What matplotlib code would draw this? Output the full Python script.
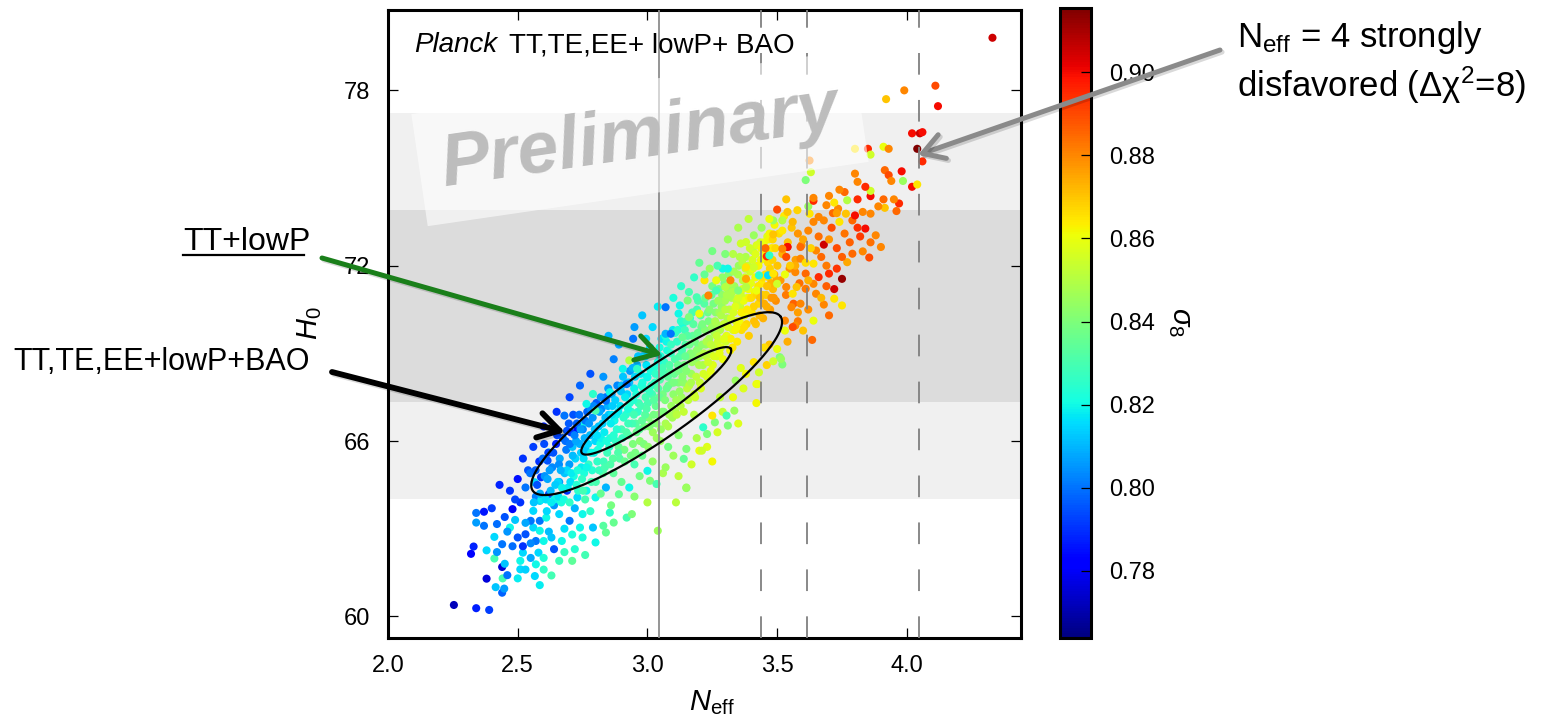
import matplotlib
matplotlib.use('Agg')
import matplotlib.pyplot as plt
import matplotlib.patheffects as pe
from matplotlib.patches import FancyArrowPatch
from matplotlib.ticker import FormatStrFormatter
import numpy as np

# ---------------------------------------------------------------------------
# DATA
# ---------------------------------------------------------------------------
# samples: [N_eff, H0, sigma8]
tail_low = np.array([
    [2.254, 60.39, 0.772], [2.340, 60.28, 0.787], [2.390, 60.22, 0.792], [2.380, 61.29, 0.776],
    [2.440, 61.69, 0.775], [2.440, 60.81, 0.797], [2.415, 61.00, 0.812], [2.448, 60.95, 0.806],
    [2.442, 61.30, 0.830], [2.566, 61.38, 0.815], [2.585, 61.07, 0.818], [2.330, 62.39, 0.788],
    [2.320, 62.14, 0.781], [2.340, 63.54, 0.800], [2.370, 63.58, 0.786], [2.340, 63.21, 0.806],
    [2.370, 63.10, 0.800], [2.380, 62.26, 0.815], [2.410, 61.98, 0.830], [2.460, 61.41, 0.800],
    [2.420, 63.16, 0.799], [2.410, 62.72, 0.815], [2.440, 62.47, 0.800], [2.480, 63.67, 0.780],
    [2.470, 63.04, 0.820], [2.500, 62.70, 0.795], [2.520, 62.18, 0.815], [2.510, 61.90, 0.820],
    [2.510, 61.61, 0.815], [2.570, 62.58, 0.800], [2.580, 62.18, 0.815], [2.600, 62.58, 0.820],
    [2.560, 63.04, 0.815], [2.585, 63.27, 0.800], [2.520, 62.40, 0.790], [2.570, 61.78, 0.820],
    [2.640, 62.30, 0.795], [2.670, 62.58, 0.820], [2.740, 63.04, 0.820], [2.750, 62.70, 0.822],
    [2.800, 62.53, 0.820], [2.790, 63.04, 0.812], [2.840, 62.87, 0.835], [2.870, 63.21, 0.836],
    [2.855, 63.55, 0.825], [2.920, 63.38, 0.830], [2.940, 63.50, 0.840], [3.000, 63.90, 0.850],
    [3.040, 62.93, 0.846], [3.150, 64.39, 0.842], [2.510, 63.90, 0.790], [2.530, 64.41, 0.800],
    [2.585, 63.95, 0.815], [2.620, 64.18, 0.795], [2.650, 63.95, 0.820], [2.690, 64.30, 0.790],
    [2.730, 64.07, 0.815], [2.765, 64.30, 0.820], [2.800, 64.07, 0.820], [2.840, 64.41, 0.810],
    [2.890, 64.18, 0.835], [2.930, 64.41, 0.820], [2.560, 63.61, 0.815], [2.550, 63.27, 0.800],
    [2.610, 63.38, 0.820], [2.660, 63.50, 0.815], [2.700, 63.27, 0.800], [2.750, 63.50, 0.820],
    [2.585, 62.93, 0.820], [2.530, 62.81, 0.795], [2.460, 62.90, 0.805], [2.490, 63.30, 0.812],
    [2.530, 63.20, 0.808], [2.620, 62.90, 0.811], [2.680, 63.00, 0.816], [2.640, 63.80, 0.805],
    [2.720, 63.70, 0.810], [2.780, 63.60, 0.826], [2.600, 62.00, 0.823], [2.660, 61.90, 0.828],
    [2.720, 62.30, 0.824], [2.830, 63.10, 0.833], [2.900, 64.60, 0.836], [2.470, 64.30, 0.790],
    [2.500, 64.70, 0.785], [2.540, 65.00, 0.795], [2.620, 65.61, 0.820], [2.615, 65.33, 0.795],
    [2.590, 64.76, 0.790], [2.565, 64.59, 0.815], [2.680, 66.87, 0.800], [2.730, 66.41, 0.785],
    [2.690, 66.35, 0.795], [2.750, 66.58, 0.820],
    [2.420, 62.20, 0.805], [2.450, 61.80, 0.812], [2.480, 62.40, 0.799], [2.500, 61.30, 0.818],
    [2.530, 61.60, 0.814], [2.550, 62.00, 0.808], [2.600, 61.60, 0.826], [2.630, 62.70, 0.812],
    [2.680, 62.20, 0.827], [2.710, 62.80, 0.822], [2.450, 63.40, 0.795], [2.490, 64.00, 0.793],
    [2.570, 64.10, 0.802], [2.660, 64.60, 0.806], [2.400, 63.70, 0.792], [2.430, 64.50, 0.788],
    [2.550, 62.50, 0.803], [2.630, 61.40, 0.829], [2.710, 61.90, 0.834], [2.760, 62.10, 0.829],
])

core = np.array([
    [2.548, 64.9, 0.800], [2.562, 63.9, 0.812], [2.575, 64.5, 0.795], [2.583, 65.3, 0.790],
    [2.591, 64.0, 0.818], [2.604, 64.8, 0.805], [2.612, 63.6, 0.815], [2.618, 65.6, 0.792],
    [2.627, 64.3, 0.811], [2.633, 65.1, 0.803], [2.641, 64.0, 0.820], [2.648, 65.9, 0.788],
    [2.655, 64.6, 0.815], [2.662, 65.4, 0.808], [2.668, 63.9, 0.822], [2.674, 66.1, 0.797],
    [2.681, 64.9, 0.812], [2.687, 65.7, 0.801], [2.693, 64.4, 0.818], [2.699, 65.2, 0.806],
    [2.704, 66.3, 0.790], [2.711, 65.8, 0.812], [2.716, 64.8, 0.821], [2.722, 65.4, 0.815],
    [2.728, 66.6, 0.797], [2.733, 64.3, 0.825], [2.739, 65.9, 0.809], [2.745, 65.1, 0.818],
    [2.751, 66.4, 0.803], [2.756, 64.9, 0.822], [2.762, 65.7, 0.813], [2.768, 67.0, 0.798],
    [2.773, 65.2, 0.826], [2.779, 66.2, 0.811], [2.784, 64.6, 0.829], [2.789, 66.8, 0.805],
    [2.794, 65.6, 0.819], [2.799, 66.0, 0.815], [2.803, 67.3, 0.796], [2.807, 65.3, 0.826],
    [2.812, 66.5, 0.812], [2.818, 65.9, 0.821], [2.823, 67.1, 0.804], [2.829, 64.9, 0.832],
    [2.834, 66.3, 0.818], [2.840, 67.5, 0.800], [2.845, 65.6, 0.828], [2.851, 66.9, 0.813],
    [2.856, 66.1, 0.823], [2.862, 67.6, 0.808], [2.867, 65.4, 0.833], [2.873, 66.7, 0.820],
    [2.878, 66.0, 0.826], [2.884, 67.9, 0.803], [2.889, 65.8, 0.835], [2.895, 67.2, 0.817],
    [2.900, 66.4, 0.829], [2.906, 68.2, 0.812], [2.911, 65.7, 0.838], [2.917, 66.9, 0.824],
    [2.922, 67.6, 0.815], [2.927, 66.2, 0.834], [2.933, 68.4, 0.806], [2.938, 67.0, 0.826],
    [2.944, 65.9, 0.840], [2.949, 67.8, 0.819], [2.955, 66.6, 0.832], [2.960, 68.6, 0.810],
    [2.966, 67.3, 0.828], [2.971, 66.0, 0.842], [2.977, 67.9, 0.823], [2.982, 68.9, 0.812],
    [2.988, 66.5, 0.838], [2.993, 67.5, 0.829], [2.999, 68.2, 0.821], [3.004, 66.8, 0.840],
    [3.010, 69.2, 0.814], [3.015, 67.9, 0.826], [3.021, 66.3, 0.846], [3.026, 68.5, 0.824],
    [3.032, 67.2, 0.835], [3.037, 69.0, 0.819], [3.043, 66.9, 0.842], [3.048, 68.1, 0.831],
    [3.054, 69.5, 0.816], [3.059, 67.6, 0.838], [3.065, 68.7, 0.826], [3.070, 66.6, 0.848],
    [3.076, 69.1, 0.822], [3.081, 67.9, 0.836], [3.087, 68.4, 0.833], [3.092, 67.2, 0.845],
    [3.098, 69.8, 0.818], [3.103, 68.3, 0.836], [3.109, 67.0, 0.849], [3.114, 69.4, 0.826],
    [3.120, 68.0, 0.841], [3.125, 68.9, 0.832], [3.131, 67.5, 0.846], [3.136, 70.0, 0.822],
    [3.142, 68.6, 0.838], [3.147, 69.3, 0.831], [3.153, 67.8, 0.852], [3.158, 68.9, 0.840],
    [3.164, 70.2, 0.826], [3.169, 68.3, 0.846], [3.175, 69.6, 0.834], [3.180, 67.6, 0.855],
    [3.186, 68.8, 0.843], [3.191, 70.5, 0.829], [3.197, 69.2, 0.839], [3.202, 68.0, 0.853],
    [3.208, 69.9, 0.836], [3.214, 68.6, 0.849], [3.219, 70.7, 0.832], [3.225, 69.3, 0.845],
    [3.230, 68.2, 0.857], [3.236, 70.1, 0.839], [3.241, 69.0, 0.851], [3.247, 71.0, 0.834],
    [3.252, 68.6, 0.858], [3.258, 69.7, 0.847], [3.263, 70.4, 0.842], [3.269, 68.9, 0.856],
    [3.275, 71.2, 0.837], [3.280, 69.8, 0.850], [3.286, 70.6, 0.844], [3.291, 68.8, 0.860],
    [3.297, 71.4, 0.839], [3.302, 69.4, 0.855], [3.308, 70.2, 0.849], [3.313, 71.7, 0.842],
    [3.319, 69.1, 0.862], [3.324, 70.9, 0.848], [3.330, 69.8, 0.858], [3.335, 71.3, 0.846],
    [3.341, 70.1, 0.857], [3.346, 69.4, 0.864], [3.352, 72.0, 0.845], [3.357, 70.6, 0.854],
    [3.363, 69.8, 0.866], [3.368, 71.5, 0.851], [3.374, 70.3, 0.861], [3.379, 72.3, 0.849],
    [3.385, 70.9, 0.858], [3.391, 69.6, 0.869], [3.396, 71.8, 0.856], [3.402, 70.4, 0.865],
    [3.407, 72.5, 0.852], [3.413, 71.1, 0.862], [3.418, 70.0, 0.870], [3.424, 72.0, 0.858],
    [3.429, 70.7, 0.867], [3.435, 72.8, 0.855], [3.440, 71.4, 0.864], [3.446, 70.2, 0.873],
    [3.451, 72.3, 0.861], [3.457, 71.0, 0.869], [3.462, 73.0, 0.858], [3.468, 71.6, 0.866],
    [3.473, 70.5, 0.876], [3.479, 72.6, 0.864], [3.484, 71.2, 0.872], [3.490, 73.4, 0.862],
    [3.495, 70.8, 0.879], [3.501, 72.0, 0.870], [3.507, 73.1, 0.866], [3.513, 71.5, 0.877],
    [3.520, 72.4, 0.873], [3.527, 73.7, 0.864], [3.534, 71.0, 0.882], [3.541, 72.8, 0.871],
    [3.548, 71.9, 0.879], [3.556, 73.3, 0.870], [3.563, 70.7, 0.886], [3.571, 72.2, 0.876],
    [3.578, 73.9, 0.868], [3.586, 71.4, 0.884], [3.594, 72.7, 0.877],
    [2.569, 65.0, 0.797], [2.586, 64.2, 0.809], [2.597, 65.4, 0.799], [2.609, 64.0, 0.816],
    [2.623, 65.0, 0.806], [2.637, 65.6, 0.795], [2.645, 64.5, 0.813], [2.659, 65.2, 0.804],
    [2.671, 64.4, 0.819], [2.684, 66.0, 0.799], [2.690, 65.0, 0.815], [2.701, 65.9, 0.801],
    [2.707, 64.9, 0.818], [2.714, 66.9, 0.795], [2.725, 66.0, 0.808], [2.731, 65.0, 0.822],
    [2.742, 66.4, 0.806], [2.748, 64.7, 0.826], [2.754, 65.4, 0.817], [2.760, 66.7, 0.801],
    [2.771, 65.9, 0.815], [2.781, 67.1, 0.803], [2.787, 65.0, 0.824], [2.797, 66.4, 0.812],
    [2.809, 65.7, 0.822], [2.815, 67.0, 0.808], [2.821, 66.1, 0.819], [2.831, 65.3, 0.828],
    [2.838, 66.8, 0.811], [2.848, 67.2, 0.809], [2.853, 65.8, 0.826], [2.859, 66.6, 0.818],
    [2.865, 67.2, 0.813], [2.870, 66.2, 0.824], [2.881, 66.9, 0.819], [2.887, 65.6, 0.831],
    [2.898, 67.7, 0.812], [2.903, 66.1, 0.827], [2.914, 67.5, 0.818], [2.919, 66.3, 0.831],
    [2.925, 67.1, 0.822], [2.930, 68.0, 0.811], [2.941, 66.6, 0.829], [2.946, 67.4, 0.824],
    [2.952, 68.2, 0.815], [2.958, 66.3, 0.837], [2.963, 67.0, 0.826], [2.974, 68.3, 0.818],
    [2.979, 66.7, 0.834], [2.985, 67.8, 0.824], [2.991, 66.9, 0.833], [2.996, 68.6, 0.817],
    [3.002, 67.3, 0.830], [3.007, 66.5, 0.841], [3.013, 68.4, 0.822], [3.018, 67.6, 0.829],
    [3.024, 66.9, 0.838], [3.029, 68.0, 0.827], [3.035, 66.6, 0.843], [3.040, 68.7, 0.821],
    [3.046, 67.5, 0.836], [3.051, 68.9, 0.823], [3.057, 67.0, 0.843], [3.062, 68.3, 0.830],
    [3.068, 67.4, 0.840], [3.073, 69.4, 0.820], [3.079, 68.2, 0.834], [3.084, 66.9, 0.847],
    [3.090, 69.0, 0.826], [3.095, 68.0, 0.837], [3.100, 67.6, 0.843], [3.106, 68.8, 0.831],
    [3.111, 67.4, 0.847], [3.117, 69.8, 0.824], [3.122, 68.4, 0.838], [3.128, 67.2, 0.850],
    [3.133, 69.1, 0.830], [3.139, 68.0, 0.843], [3.144, 69.8, 0.828], [3.150, 68.4, 0.841],
    [3.155, 69.6, 0.832], [3.161, 67.9, 0.851], [3.166, 69.0, 0.841], [3.172, 68.7, 0.845],
    [3.177, 70.0, 0.833], [3.183, 69.4, 0.838], [3.188, 68.2, 0.852], [3.194, 69.7, 0.836],
    [3.199, 68.6, 0.848], [3.205, 70.3, 0.833], [3.211, 69.3, 0.843], [3.216, 68.3, 0.856],
    [3.222, 69.8, 0.841], [3.227, 68.9, 0.852], [3.233, 70.4, 0.837], [3.238, 69.5, 0.847],
    [3.244, 68.4, 0.859], [3.249, 69.9, 0.845], [3.255, 70.7, 0.838], [3.260, 69.2, 0.853],
    [3.266, 70.0, 0.847], [3.272, 69.4, 0.855], [3.277, 70.4, 0.846], [3.283, 69.2, 0.857],
    [3.288, 71.0, 0.843], [3.294, 70.0, 0.853], [3.299, 70.8, 0.847], [3.305, 69.6, 0.859],
    [3.310, 71.2, 0.845], [3.316, 70.5, 0.852], [3.321, 69.5, 0.863], [3.327, 71.1, 0.849],
    [3.332, 70.4, 0.856], [3.338, 69.8, 0.862], [3.344, 70.8, 0.854], [3.349, 71.7, 0.848],
    [3.355, 70.1, 0.861], [3.360, 71.0, 0.855], [3.366, 72.1, 0.850], [3.371, 70.8, 0.860],
    [3.377, 71.6, 0.855], [3.382, 70.0, 0.867], [3.388, 72.0, 0.853], [3.393, 70.9, 0.863],
    [3.399, 71.4, 0.859], [3.405, 72.2, 0.856], [3.410, 70.6, 0.868], [3.416, 71.6, 0.861],
    [3.421, 72.7, 0.857], [3.427, 71.3, 0.865], [3.432, 70.3, 0.872], [3.438, 72.2, 0.861],
    [3.443, 71.0, 0.869], [3.449, 72.8, 0.860], [3.454, 71.7, 0.866], [3.460, 70.6, 0.874],
    [3.465, 72.1, 0.866], [3.471, 73.1, 0.862], [3.476, 71.4, 0.873], [3.482, 72.2, 0.868],
    [3.487, 70.9, 0.877], [3.493, 72.6, 0.867], [3.498, 71.5, 0.875],
])

core_fill = np.array([
    [2.602, 65.9, 0.794], [2.615, 64.7, 0.808], [2.629, 63.9, 0.818], [2.652, 66.2, 0.793],
    [2.657, 64.1, 0.817], [2.666, 65.0, 0.810], [2.678, 64.0, 0.821], [2.697, 66.6, 0.796],
    [2.703, 64.6, 0.816], [2.712, 65.5, 0.811], [2.719, 66.2, 0.802], [2.727, 64.5, 0.824],
    [2.737, 66.9, 0.799], [2.744, 65.6, 0.814], [2.752, 64.3, 0.829], [2.758, 66.1, 0.809],
    [2.766, 65.1, 0.820], [2.775, 66.6, 0.805], [2.783, 65.6, 0.820], [2.792, 67.2, 0.803],
    [2.801, 64.6, 0.830], [2.806, 66.2, 0.816], [2.814, 65.0, 0.827], [2.820, 67.5, 0.805],
    [2.827, 66.6, 0.814], [2.836, 65.1, 0.830], [2.842, 66.0, 0.822], [2.849, 67.8, 0.806],
    [2.857, 65.2, 0.831], [2.863, 66.9, 0.817], [2.869, 64.9, 0.834], [2.876, 67.4, 0.814],
    [2.882, 66.4, 0.824], [2.888, 67.0, 0.818], [2.893, 65.4, 0.832], [2.901, 67.9, 0.811],
    [2.908, 66.8, 0.825], [2.913, 65.3, 0.836], [2.921, 68.0, 0.813], [2.926, 66.6, 0.828],
    [2.932, 67.3, 0.824], [2.936, 65.5, 0.838], [2.943, 68.5, 0.810], [2.948, 66.9, 0.829],
    [2.953, 65.6, 0.839], [2.957, 67.6, 0.823], [2.964, 68.9, 0.812], [2.969, 66.4, 0.834],
    [2.975, 67.2, 0.829], [2.981, 68.0, 0.822], [2.986, 65.9, 0.840], [2.992, 68.9, 0.815],
    [2.997, 67.1, 0.831], [3.003, 65.8, 0.843], [3.008, 67.7, 0.827], [3.014, 69.0, 0.818],
    [3.019, 66.6, 0.840], [3.025, 67.4, 0.833], [3.031, 68.3, 0.826], [3.036, 66.1, 0.846],
    [3.041, 67.8, 0.832], [3.047, 69.2, 0.821], [3.052, 66.4, 0.845], [3.058, 68.5, 0.829],
    [3.063, 67.0, 0.840], [3.069, 69.6, 0.823], [3.074, 67.8, 0.836], [3.080, 66.5, 0.849],
    [3.085, 68.6, 0.831], [3.091, 69.3, 0.827], [3.096, 66.8, 0.847], [3.102, 68.0, 0.839],
    [3.107, 69.7, 0.826], [3.113, 66.9, 0.851], [3.118, 68.6, 0.836], [3.124, 67.7, 0.844],
    [3.129, 70.1, 0.825], [3.135, 68.2, 0.842], [3.140, 67.0, 0.853], [3.146, 68.9, 0.836],
    [3.151, 70.1, 0.828], [3.157, 67.4, 0.852], [3.162, 69.3, 0.837], [3.168, 68.0, 0.848],
    [3.173, 70.4, 0.830], [3.179, 68.9, 0.842], [3.184, 67.5, 0.855], [3.190, 69.1, 0.843],
    [3.195, 70.8, 0.831], [3.201, 68.9, 0.847], [3.206, 67.8, 0.857], [3.212, 70.0, 0.839],
    [3.217, 69.0, 0.850], [3.223, 70.9, 0.836], [3.228, 69.4, 0.849], [3.234, 68.7, 0.855],
    [3.239, 70.5, 0.841], [3.245, 69.3, 0.852], [3.250, 71.3, 0.838], [3.256, 68.9, 0.857],
    [3.261, 70.1, 0.848], [3.267, 69.6, 0.853], [3.273, 70.8, 0.845], [3.278, 69.0, 0.859],
    [3.284, 70.3, 0.849], [3.289, 71.6, 0.843], [3.295, 69.5, 0.858], [3.300, 70.5, 0.851],
    [3.306, 71.0, 0.848], [3.311, 69.9, 0.857], [3.317, 71.4, 0.849], [3.322, 70.2, 0.856],
    [3.328, 69.2, 0.865], [3.333, 71.8, 0.847], [3.339, 70.6, 0.858], [3.345, 69.9, 0.862],
    [3.350, 70.9, 0.856], [3.356, 72.3, 0.850], [3.362, 70.4, 0.863], [3.367, 71.2, 0.857],
    [3.373, 69.9, 0.866], [3.378, 71.9, 0.854], [3.384, 70.5, 0.864], [3.389, 71.2, 0.860],
    [3.395, 72.6, 0.855], [3.400, 70.9, 0.866], [3.406, 71.9, 0.860], [3.411, 70.1, 0.871],
    [3.417, 72.4, 0.858], [3.422, 71.0, 0.867], [3.428, 72.0, 0.862], [3.434, 70.9, 0.870],
    [3.439, 72.6, 0.861], [3.445, 71.6, 0.866], [3.450, 70.7, 0.874], [3.456, 72.5, 0.864],
    [3.461, 71.3, 0.871], [3.467, 72.9, 0.862], [3.472, 71.9, 0.868], [3.478, 70.9, 0.877],
    [3.483, 72.9, 0.867], [3.489, 71.7, 0.874],
])

halo = np.array([
    [2.700, 63.9, 0.826], [2.760, 64.0, 0.830], [2.820, 64.2, 0.836], [2.860, 63.8, 0.839],
    [2.950, 64.1, 0.842], [2.970, 64.8, 0.838], [3.020, 65.3, 0.844], [3.060, 64.9, 0.848],
    [3.100, 65.5, 0.846], [3.120, 64.8, 0.852], [3.170, 65.2, 0.855], [3.190, 66.1, 0.849],
    [3.230, 65.8, 0.858], [3.270, 66.3, 0.856], [3.290, 67.0, 0.853], [3.330, 67.5, 0.860],
    [3.370, 67.8, 0.857], [3.380, 68.3, 0.862], [3.410, 68.7, 0.865], [3.460, 68.6, 0.868],
    [3.470, 69.3, 0.870], [3.540, 69.4, 0.874], [3.580, 70.1, 0.882], [3.620, 70.5, 0.879],
    [3.110, 63.9, 0.851], [3.250, 65.3, 0.862], [3.350, 66.6, 0.858], [3.420, 67.3, 0.862],
    [2.700, 67.5, 0.793], [2.740, 67.9, 0.798], [2.780, 68.3, 0.795], [2.830, 68.2, 0.805],
    [2.870, 68.8, 0.802], [2.890, 69.3, 0.808], [2.950, 69.9, 0.806], [2.980, 70.3, 0.812],
    [3.020, 69.9, 0.815], [3.040, 70.6, 0.818], [3.100, 70.9, 0.822], [3.130, 71.3, 0.825],
    [3.180, 71.6, 0.826], [3.200, 72.1, 0.835], [3.250, 72.5, 0.838], [3.310, 72.9, 0.845],
    [3.350, 73.3, 0.848], [3.390, 73.6, 0.852], [2.650, 67.0, 0.790], [2.600, 66.5, 0.788],
    [2.560, 65.8, 0.792], [2.520, 65.4, 0.790], [2.850, 69.6, 0.810],
])

edge_pts = np.array([
    [2.945, 69.50, 0.800], [2.995, 69.50, 0.815], [3.070, 70.58, 0.800], [3.070, 69.67, 0.810],
    [3.090, 69.67, 0.800], [3.135, 69.55, 0.835], [3.125, 70.64, 0.820], [2.930, 68.76, 0.850],
    [2.905, 68.47, 0.820], [2.960, 68.47, 0.825], [3.000, 68.18, 0.820], [2.920, 67.95, 0.800],
    [2.855, 67.67, 0.820], [2.790, 67.61, 0.825], [2.840, 67.38, 0.800], [2.765, 67.27, 0.820],
    [2.800, 67.04, 0.830], [3.120, 70.36, 0.820], [3.155, 70.81, 0.840], [3.190, 70.92, 0.830],
    [3.160, 70.24, 0.840], [3.200, 70.36, 0.860], [3.220, 71.50, 0.865], [3.290, 71.90, 0.820],
    [3.310, 71.90, 0.820], [3.265, 71.50, 0.860], [3.235, 70.98, 0.880], [3.300, 72.40, 0.840],
    [3.270, 72.00, 0.830], [3.330, 72.40, 0.850], [3.220, 71.70, 0.835], [3.160, 71.10, 0.830],
    [3.240, 71.90, 0.845],
    [3.510, 68.87, 0.840], [3.340, 68.07, 0.845], [3.420, 67.95, 0.860], [3.335, 67.04, 0.845],
    [3.305, 66.87, 0.830], [3.260, 66.64, 0.840], [3.215, 66.47, 0.825], [3.230, 66.24, 0.840],
    [3.200, 65.67, 0.860], [3.150, 65.73, 0.840], [3.140, 65.39, 0.835], [3.070, 65.10, 0.845],
    [3.000, 64.98, 0.820], [3.010, 64.64, 0.840], [3.035, 64.53, 0.830], [3.150, 64.41, 0.845],
    [3.250, 66.87, 0.865], [3.310, 66.53, 0.840], [3.210, 65.67, 0.855], [3.430, 68.35, 0.855],
    [3.425, 67.95, 0.860], [3.485, 68.73, 0.855], [3.520, 68.62, 0.840], [3.515, 68.81, 0.845],
    [3.500, 69.15, 0.860], [3.530, 69.78, 0.860], [3.635, 69.46, 0.885], [3.570, 69.95, 0.880],
    [3.530, 70.12, 0.880], [3.600, 69.78, 0.870], [3.560, 69.90, 0.890], [3.120, 66.20, 0.842],
    [3.180, 66.90, 0.850], [3.080, 65.80, 0.838], [3.050, 66.00, 0.845], [2.980, 65.50, 0.836],
    [2.950, 65.20, 0.830], [3.280, 67.50, 0.852], [3.360, 68.50, 0.858], [3.450, 69.20, 0.866],
])

tail_high = np.array([
    [3.540, 72.64, 0.895], [3.680, 72.72, 0.905], [3.700, 71.73, 0.895], [3.750, 71.55, 0.912],
    [3.720, 71.20, 0.905], [3.720, 70.87, 0.865], [3.750, 70.64, 0.865], [3.680, 70.67, 0.880],
    [3.700, 70.30, 0.885], [3.640, 70.12, 0.860], [3.650, 71.04, 0.880], [3.560, 71.04, 0.865],
    [3.555, 70.58, 0.880], [3.590, 70.70, 0.880], [3.640, 71.38, 0.880], [3.660, 71.61, 0.895],
    [3.610, 71.21, 0.882], [3.575, 71.27, 0.870], [3.535, 71.27, 0.880], [3.500, 71.38, 0.855],
    [3.420, 71.15, 0.860], [3.380, 71.27, 0.850], [3.350, 71.15, 0.840], [3.300, 71.27, 0.850],
    [3.265, 71.15, 0.830], [3.410, 71.95, 0.855], [3.380, 71.95, 0.865], [3.320, 71.50, 0.880],
    [3.380, 71.55, 0.875], [3.430, 71.67, 0.825], [3.465, 71.67, 0.815], [3.485, 71.73, 0.865],
    [3.530, 71.70, 0.860], [3.570, 71.78, 0.880], [3.610, 71.73, 0.885], [3.640, 72.07, 0.865],
    [3.590, 72.24, 0.880], [3.535, 72.30, 0.890], [3.410, 73.04, 0.845], [3.380, 72.81, 0.855],
    [3.360, 72.76, 0.855], [3.460, 72.32, 0.895], [3.470, 72.35, 0.825], [3.485, 73.07, 0.870],
    [3.455, 72.60, 0.885], [3.650, 72.52, 0.880], [3.590, 72.64, 0.885], [3.540, 72.64, 0.900],
    [3.520, 72.58, 0.880], [3.770, 72.12, 0.875], [3.790, 72.41, 0.885], [3.830, 72.49, 0.880],
    [3.855, 72.28, 0.890], [3.900, 72.64, 0.880], [3.880, 73.04, 0.880], [3.840, 73.27, 0.900],
    [3.790, 73.55, 0.885], [3.740, 73.50, 0.865], [3.680, 73.55, 0.880], [3.640, 73.50, 0.880],
    [3.800, 73.72, 0.900], [3.765, 73.78, 0.870], [3.715, 73.80, 0.885], [3.660, 73.67, 0.880],
    [3.625, 73.78, 0.865], [3.540, 73.84, 0.870], [3.500, 73.92, 0.890], [3.960, 73.87, 0.885],
    [3.915, 73.98, 0.870], [3.890, 74.03, 0.880], [3.860, 73.78, 0.880], [3.830, 73.84, 0.880],
    [3.735, 73.95, 0.880], [3.690, 74.07, 0.880], [3.620, 74.03, 0.845], [3.535, 74.27, 0.870],
    [3.970, 74.13, 0.895], [3.950, 74.27, 0.880], [3.910, 74.27, 0.885], [3.860, 74.38, 0.900],
    [3.810, 74.27, 0.895], [3.770, 74.24, 0.850], [3.720, 74.16, 0.865], [3.700, 74.39, 0.880],
    [3.640, 74.22, 0.895], [3.640, 74.32, 0.880], [3.760, 74.52, 0.885], [3.740, 74.60, 0.880],
    [3.860, 74.56, 0.855], [3.840, 74.70, 0.895], [3.810, 74.87, 0.880], [3.800, 75.15, 0.880],
    [3.915, 75.27, 0.885], [3.930, 75.10, 0.890], [3.940, 74.90, 0.880], [3.980, 75.23, 0.900],
    [3.985, 74.90, 0.845], [4.020, 74.70, 0.900], [4.040, 74.78, 0.865], [3.610, 74.93, 0.840],
    [3.630, 75.20, 0.855], [3.625, 75.60, 0.880], [3.800, 76.00, 0.865], [3.850, 76.00, 0.895],
    [3.910, 76.07, 0.860], [3.930, 76.00, 0.880], [3.860, 75.80, 0.855], [4.020, 76.53, 0.900],
    [4.050, 76.53, 0.905], [4.060, 76.57, 0.900], [4.040, 76.00, 0.915], [4.060, 75.57, 0.895],
    [3.990, 78.00, 0.880], [4.110, 78.16, 0.890], [3.920, 77.70, 0.870], [4.120, 77.46, 0.900],
    [4.330, 79.80, 0.905], [3.440, 73.30, 0.845], [3.485, 73.55, 0.845], [3.520, 73.55, 0.850],
    [3.600, 72.90, 0.875], [3.620, 73.20, 0.880], [3.670, 72.30, 0.885], [3.700, 72.90, 0.878],
    [3.730, 72.60, 0.890], [3.760, 73.10, 0.883], [3.570, 72.00, 0.874], [3.630, 72.60, 0.868],
    [3.690, 71.30, 0.887], [3.580, 70.40, 0.876], [3.670, 70.90, 0.872], [3.730, 71.90, 0.893],
    [3.780, 72.80, 0.886], [3.820, 73.00, 0.892], [3.560, 73.50, 0.872], [3.470, 73.60, 0.860],
    [3.580, 73.10, 0.878], [3.660, 73.00, 0.884], [3.710, 73.30, 0.889], [3.690, 72.00, 0.882],
    [3.750, 72.30, 0.887], [3.620, 71.50, 0.873], [3.550, 72.00, 0.869], [3.610, 72.10, 0.866],
    [3.730, 73.80, 0.876], [3.810, 73.30, 0.894], [3.860, 72.80, 0.884], [3.520, 73.20, 0.864],
])

# reference lines and H0 bands
neff_standard = 3.046
neff_dashed = [3.436, 3.614, 4.046]
h0_band_1sig = (67.35, 73.90)
h0_band_2sig = (64.00, 77.22)

# contours: lower-left tip, upper-right tip, width/length ratio
contour_tips = [((2.747, 65.59), (3.321, 69.16), 0.175),   # TT,TE,EE+lowP+BAO
                ((2.558, 64.30), (3.513, 70.26), 0.225)]   # TT+lowP

x_ticks = [2.0, 2.5, 3.0, 3.5, 4.0]
y_ticks = [60, 66, 72, 78]
cb_ticks = [0.78, 0.80, 0.82, 0.84, 0.86, 0.88, 0.90]
s8_range = (0.7638, 0.9155)

# ---------------------------------------------------------------------------
# FIGURE
# ---------------------------------------------------------------------------
W, H = 1546, 721
plt.rcParams['font.family'] = ['Liberation Sans', 'DejaVu Sans']
plt.rcParams['mathtext.fontset'] = 'custom'
plt.rcParams['mathtext.rm'] = 'Liberation Sans'
plt.rcParams['mathtext.it'] = 'Liberation Sans:italic'


def fx(x, y):
    # reference pixel position -> figure fraction
    return (x / W, 1 - y / H)


fig = plt.figure(figsize=(W / 100, H / 100), dpi=100)
ax = fig.add_axes([388 / W, 83 / H, 633 / W, 628 / H])
cax = fig.add_axes([1060 / W, 83 / H, 31 / W, 630 / H])

ax.set_xlim(2.0, 4.44)
ax.set_ylim(59.26, 80.75)

ax.axhspan(*h0_band_2sig, color='#f0f0f0', lw=0, zorder=0)
ax.axhspan(*h0_band_1sig, color='#dcdcdc', lw=0, zorder=0.5)

pts = np.vstack([tail_low, core, core_fill, halo, edge_pts, tail_high])
sc = ax.scatter(pts[:, 0], pts[:, 1], c=pts[:, 2], cmap='jet',
                vmin=s8_range[0], vmax=s8_range[1], s=34, edgecolors='none', zorder=2)

ax.axvline(neff_standard, color='#8c8c8c', lw=1.3, zorder=3)
for v in neff_dashed:
    ax.axvline(v, color='#808080', lw=1.3, dashes=(12, 14), zorder=3)

# contours: ellipses laid out in screen space, mapped back to data coords
fig.canvas.draw()
t = np.linspace(0, 2 * np.pi, 361)
for lo, hi, ratio in contour_tips:
    p0 = ax.transData.transform(lo)
    p1 = ax.transData.transform(hi)
    d = p1 - p0
    a = np.hypot(*d) / 2
    u = d / (2 * a)
    v = np.array([-u[1], u[0]])
    disp = (p0 + p1) / 2 + np.outer(a * np.cos(t), u) + np.outer(a * ratio * np.sin(t), v)
    dv = ax.transData.inverted().transform(disp)
    ax.plot(dv[:, 0], dv[:, 1], color='black', lw=1.6, zorder=4)

ax.set_xticks(x_ticks)
ax.set_yticks(y_ticks)
ax.xaxis.set_major_formatter(FormatStrFormatter('%.1f'))
ax.tick_params(direction='in', length=7, width=0.9, top=True, right=True, labelsize=17)
ax.tick_params(axis='x', pad=12)
ax.tick_params(axis='y', pad=13)
for sp in ax.spines.values():
    sp.set_linewidth(2.2)

ax.text(0.041, 0.933, 'Planck', transform=ax.transAxes,
        fontsize=20, style='italic', va='baseline', ha='left')
ax.text(0.191, 0.933, 'TT,TE,EE+ lowP+ BAO', transform=ax.transAxes,
        fontsize=20, va='baseline', ha='left')

# colorbar
cb = fig.colorbar(sc, cax=cax)
cb.set_ticks(cb_ticks)
cb.ax.yaxis.set_major_formatter(FormatStrFormatter('%.2f'))
cax.tick_params(direction='in', length=7, width=0.9, labelsize=17, pad=13)
cb.outline.set_linewidth(2.2)

# axis labels
fig.text(*fx(310, 323), r'$H_0$', rotation=90, fontsize=21, ha='center', va='center')
fig.text(*fx(712, 703), r'$N_{\rm eff}$', fontsize=21, ha='center', va='center')
fig.text(*fx(1180, 322), r'$\sigma_8$', rotation=270, fontsize=21, ha='center', va='center')

# watermark
fig.text(*fx(640, 138), 'Preliminary', fontsize=53, fontweight='bold', style='italic',
         color='#bdbdbd', rotation=8.3, rotation_mode='anchor', ha='center', va='center',
         bbox=dict(boxstyle='square,pad=0.3', fc='white', ec='none', alpha=0.6), zorder=5)

# slide annotations
fig.text(*fx(1237, 47), r'N$_\mathregular{eff}$ = 4 strongly', fontsize=25,
         va='baseline', ha='left')
fig.text(*fx(1237, 97), r'disfavored (Δχ$^\mathregular{2}$=8)', fontsize=25,
         va='baseline', ha='left')
fig.text(*fx(183, 250), 'TT+lowP', fontsize=23, va='baseline', ha='left')
fig.add_artist(plt.Line2D([183 / W, 304 / W], [1 - 255 / H, 1 - 255 / H],
                          color='black', lw=1.6))
fig.text(*fx(13, 370), 'TT,TE,EE+lowP+BAO', fontsize=22, va='baseline', ha='left')

shadow = [pe.SimpleLineShadow(offset=(1.5, -1.5), alpha=0.15), pe.Normal()]
arrows = [((1220, 50), (918, 155), '#8a8a8a', 3.6),
          ((322, 258), (662, 355), '#1a7f1a', 3.6),
          ((332, 372), (565, 432), 'black', 4.2)]
for (x0, y0), (x1, y1), col, lw in arrows:
    fig.add_artist(FancyArrowPatch(
        fx(x0, y0), fx(x1, y1), transform=fig.transFigure,
        arrowstyle='->,head_length=0.75,head_width=0.45', mutation_scale=20,
        color=col, lw=lw, shrinkA=0, shrinkB=0, path_effects=shadow, zorder=6))

fig.savefig('out.png', dpi=100)
